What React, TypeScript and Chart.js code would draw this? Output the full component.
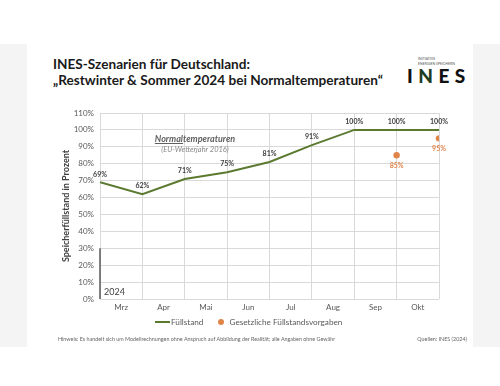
import React, { useEffect, useRef } from "react";
import { Chart, registerables } from "chart.js";

Chart.register(...registerables);

const months = ["Mrz", "Apr", "Mai", "Jun", "Jul", "Aug", "Sep", "Okt"];
const fuellstand = [69, 62, 71, 75, 81, 91, 100, 100, 100];
const vorgaben: (number | null)[] = [null, null, null, null, null, null, null, 85, 95];
const yTicks = [0, 10, 20, 30, 40, 50, 60, 70, 80, 90, 100, 110];

const GREEN = "#5b7a30";
const ORANGE = "#e0854a";
const FONT = "Lato, 'Open Sans', sans-serif";

const labelPlugin = {
  id: "labels",
  afterDatasetsDraw(chart: any) {
    const ctx = chart.ctx;
    ctx.save();
    ctx.textAlign = "center";
    ctx.textBaseline = "middle";
    chart.data.datasets.forEach((ds: any, di: number) => {
      const meta = chart.getDatasetMeta(di);
      meta.data.forEach((pt: any, i: number) => {
        const v = ds.data[i].y;
        ctx.font = `bold 7px ${FONT}`;
        ctx.fillStyle = di === 0 ? "#404040" : ORANGE;
        const dy = di === 0 ? -8 : 10;
        ctx.fillText(v + "%", pt.x, pt.y + dy);
      });
    });
    ctx.restore();
  },
};

const yearPlugin = {
  id: "year",
  afterDraw(chart: any) {
    const ctx = chart.ctx;
    const y = chart.scales.y;
    const left = chart.chartArea.left;
    ctx.save();
    ctx.strokeStyle = "#595959";
    ctx.lineWidth = 1.5;
    ctx.beginPath();
    ctx.moveTo(left, y.getPixelForValue(30));
    ctx.lineTo(left, y.getPixelForValue(0));
    ctx.stroke();
    ctx.font = `9px ${FONT}`;
    ctx.fillStyle = "#404040";
    ctx.textBaseline = "middle";
    ctx.textAlign = "left";
    ctx.fillText("2024", left + 4, y.getPixelForValue(0) - 7);
    ctx.restore();
  },
};

export default function App() {
  const ref = useRef<HTMLCanvasElement>(null);
  useEffect(() => {
    const chart = new Chart(ref.current!, {
      type: "line",
      data: {
        datasets: [
          {
            label: "Füllstand",
            data: fuellstand.map((v, i) => ({ x: i, y: v })),
            borderColor: GREEN,
            borderWidth: 2,
            pointRadius: 0,
            tension: 0,
            xAxisID: "x",
          },
          {
            label: "Gesetzliche Füllstandsvorgaben",
            data: vorgaben
              .map((v, i) => (v === null ? null : { x: i, y: v }))
              .filter((d) => d !== null) as any,
            showLine: false,
            pointRadius: 3.2,
            pointBackgroundColor: ORANGE,
            pointBorderWidth: 0,
            borderColor: ORANGE,
            xAxisID: "x",
          },
        ],
      },
      options: {
        animation: false,
        responsive: false,
        layout: { padding: { left: 0, right: 31, top: 13, bottom: 0 } },
        plugins: { legend: { display: false }, tooltip: { enabled: false } },
        scales: {
          x: {
            type: "linear",
            position: "bottom",
            min: 0,
            max: months.length,
            ticks: { display: false, stepSize: 1 },
            grid: { color: "#d9d9d9", drawTicks: false, lineWidth: 1 },
            border: { display: false },
            afterFit: (s: any) => {
              s.height = 0;
            },
          },
          x2: {
            type: "category",
            position: "bottom",
            labels: months,
            offset: true,
            grid: { display: false, drawTicks: false },
            border: { display: false },
            ticks: { color: "#595959", font: { family: FONT, size: 8 }, padding: 4, maxRotation: 0 },
            afterFit: (s: any) => {
              s.height = 21;
            },
          },
          y: {
            min: 0,
            max: 110,
            afterBuildTicks: (s: any) => {
              s.ticks = yTicks.map((v) => ({ value: v }));
            },
            ticks: {
              color: "#595959",
              font: { family: FONT, size: 8 },
              padding: 6,
              callback: (v: any) => v + "%",
            },
            grid: { color: "#d9d9d9", drawTicks: false },
            border: { display: false },
            title: {
              display: true,
              text: "Speicherfüllstand in Prozent",
              color: "#404040",
              font: { family: FONT, size: 9, weight: "bold" },
              padding: { top: 21, bottom: 0 },
            },
            afterFit: (s: any) => {
              s.width = 60;
            },
          },
        },
      },
      plugins: [labelPlugin, yearPlugin],
    } as any);
    return () => chart.destroy();
  }, []);

  return (
    <div style={{ position: "fixed", left: 0, top: 0, width: 500, height: 386, background: "#fff", overflow: "hidden", fontFamily: FONT }}>
      <div style={{ position: "absolute", left: 0, top: 44, width: 500, height: 303, background: "#f4f4f4" }} />
      <div style={{ position: "absolute", left: 27, top: 44, width: 446, height: 303, background: "#fff" }} />
      <div style={{ position: "absolute", left: 53, top: 57, fontSize: 13.6, fontWeight: 700, color: "#1a1a1a", lineHeight: "15.5px", whiteSpace: "nowrap" }}>
        INES-Szenarien für Deutschland:
        <br />„Restwinter &amp; Sommer 2024 bei Normaltemperaturen“
      </div>
      <div style={{ position: "absolute", left: 418, top: 57, fontSize: 3.5, color: "#555", lineHeight: "4.5px", whiteSpace: "nowrap" }}>
        INITIATIVE
        <br />
        ENERGIEN SPEICHERN
      </div>
      <div style={{ position: "absolute", left: 407, top: 65, fontSize: 19, fontWeight: 900, color: "#111", letterSpacing: 5.5, whiteSpace: "nowrap", lineHeight: "22px" }}>
        I<span style={{ color: "#1f3d24" }}>N</span>ES
      </div>
      <canvas ref={ref} width={430} height={220} style={{ position: "absolute", left: 40, top: 100 }} />
      <div style={{ position: "absolute", left: 195, top: 133, transform: "translateX(-50%)", textAlign: "center", whiteSpace: "nowrap", fontStyle: "italic" }}>
        <div style={{ fontSize: 9, fontWeight: 700, color: "#606060", lineHeight: "11px" }}>
          <span style={{ textDecoration: "underline" }}>Normal</span>temperaturen
        </div>
        <div style={{ fontSize: 7.5, color: "#8a8a8a", lineHeight: "11px" }}>(EU-Wetterjahr 2016)</div>
      </div>
      <div style={{ position: "absolute", left: 155, top: 316, fontSize: 8.2, color: "#595959", whiteSpace: "nowrap", display: "flex", alignItems: "center", lineHeight: "12px" }}>
        <span style={{ display: "inline-block", width: 15, height: 2, background: GREEN, marginRight: 1 }} />
        Füllstand
        <span style={{ display: "inline-block", width: 6, height: 6, borderRadius: 3, background: ORANGE, marginLeft: 15, marginRight: 5 }} />
        Gesetzliche Füllstandsvorgaben
      </div>
      <div style={{ position: "absolute", left: 58, top: 336, fontSize: 5.4, color: "#666", whiteSpace: "nowrap" }}>
        Hinweis: Es handelt sich um Modellrechnungen ohne Anspruch auf Abbildung der Realität; alle Angaben ohne Gewähr
      </div>
      <div style={{ position: "absolute", right: 33, top: 336, fontSize: 5.4, color: "#666", whiteSpace: "nowrap" }}>
        Quellen: INES (2024)
      </div>
    </div>
  );
}
